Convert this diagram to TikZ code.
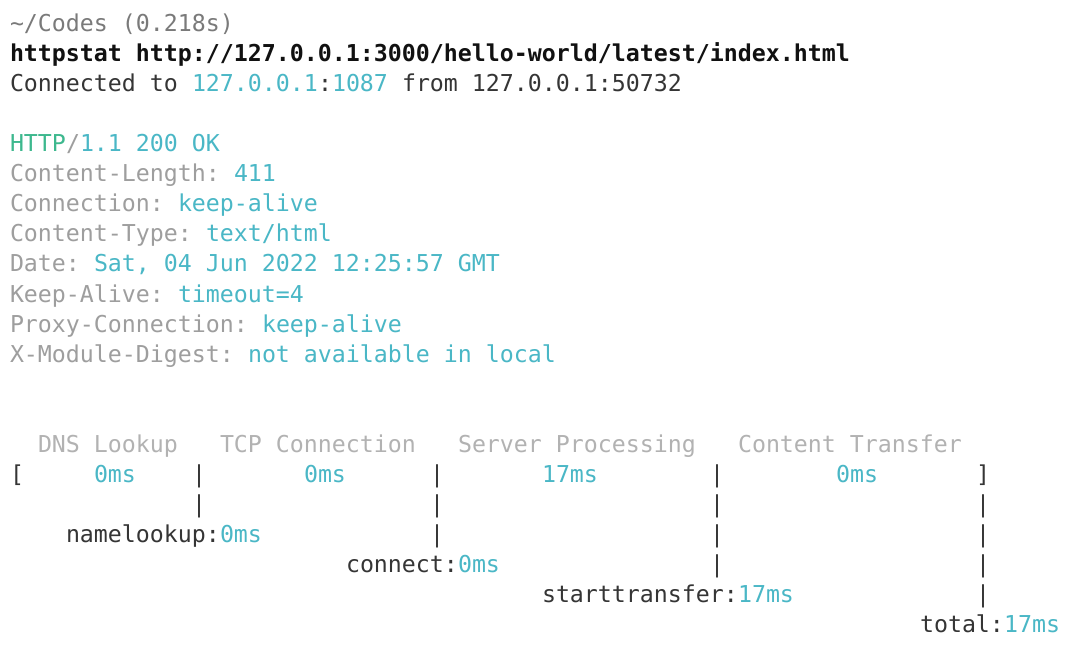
\documentclass[tikz,border=0pt]{standalone}
\usepackage{fontspec}
\newfontfamily\monofnt{DejaVu Sans Mono}
\definecolor{teal}{HTML}{4AB7C6}
\definecolor{httpgreen}{HTML}{3DB88E}
\definecolor{hdrgrey}{HTML}{9E9E9E}
\definecolor{tmgrey}{HTML}{B2B2B2}
\definecolor{promptgrey}{HTML}{7A7A7A}
\definecolor{darktext}{HTML}{353535}
\definecolor{boldtext}{HTML}{111111}
\tikzset{
  txt/.style={anchor=base west, inner sep=0pt, outer sep=0pt,
    font={\monofnt\fontsize{23.25}{28}\selectfont\frenchspacing}},
  val/.style={txt, text=teal},
  dk/.style={txt, text=darktext},
  hd/.style={txt, text=hdrgrey},
  tm/.style={txt, text=tmgrey},
}
\newcommand\seg[5]{\node[#4] (#1) at ({10pt+14pt*#2},{-32pt-30pt*#3}) {#5};}
\begin{document}
\begin{tikzpicture}
\fill[white] (0,0) rectangle (1076pt,-668pt);
\useasboundingbox (0,0) rectangle (1076pt,-668pt);
% prompt
\seg{p0}{0}{0}{txt,text=promptgrey}{\textasciitilde/Codes (0.218s)}
\seg{p1}{0}{1}{txt,text=boldtext,font={\monofnt\bfseries\fontsize{23.25}{28}\selectfont}}{httpstat http://127.0.0.1:3000/hello-world/latest/index.html}
\seg{c1}{0}{2}{dk}{Connected to}
\seg{c2}{13}{2}{val}{127.0.0.1}
\seg{c3}{22}{2}{dk}{:}
\seg{c4}{23}{2}{val}{1087}
\seg{c5}{28}{2}{dk}{from 127.0.0.1:50732}
% response headers
\seg{h0a}{0}{4}{txt,text=httpgreen}{HTTP}
\seg{h0b}{4}{4}{hd}{/}
\seg{h0c}{5}{4}{val}{1.1 200 OK}
\seg{h1a}{0}{5}{hd}{Content-Length:}
\seg{h1b}{16}{5}{val}{411}
\seg{h2a}{0}{6}{hd}{Connection:}
\seg{h2b}{12}{6}{val}{keep-alive}
\seg{h3a}{0}{7}{hd}{Content-Type:}
\seg{h3b}{14}{7}{val}{text/html}
\seg{h4a}{0}{8}{hd}{Date:}
\seg{h4b}{6}{8}{val}{Sat, 04 Jun 2022 12:25:57 GMT}
\seg{h5a}{0}{9}{hd}{Keep-Alive:}
\seg{h5b}{12}{9}{val}{timeout=4}
\seg{h6a}{0}{10}{hd}{Proxy-Connection:}
\seg{h6b}{18}{10}{val}{keep-alive}
\seg{h7a}{0}{11}{hd}{X-Module-Digest:}
\seg{h7b}{17}{11}{val}{not available in local}
% timing headers
\seg{t1}{2}{14}{tm}{DNS Lookup}
\seg{t2}{15}{14}{tm}{TCP Connection}
\seg{t3}{32}{14}{tm}{Server Processing}
\seg{t4}{52}{14}{tm}{Content Transfer}
% timing bar
\seg{b0}{0}{15}{dk}{[}
\seg{v1}{6}{15}{val}{0ms}
\seg{b1}{13}{15}{dk}{|}
\seg{v2}{21}{15}{val}{0ms}
\seg{b2}{30}{15}{dk}{|}
\seg{v3}{38}{15}{val}{17ms}
\seg{b3}{50}{15}{dk}{|}
\seg{v4}{59}{15}{val}{0ms}
\seg{b4}{69}{15}{dk}{]}
% row 16
\seg{r16a}{13}{16}{dk}{|}
\seg{r16b}{30}{16}{dk}{|}
\seg{r16c}{50}{16}{dk}{|}
\seg{r16d}{69}{16}{dk}{|}
% row 17
\seg{n1}{4}{17}{dk}{namelookup:}
\seg{n1v}{15}{17}{val}{0ms}
\seg{r17b}{30}{17}{dk}{|}
\seg{r17c}{50}{17}{dk}{|}
\seg{r17d}{69}{17}{dk}{|}
% row 18
\seg{n2}{24}{18}{dk}{connect:}
\seg{n2v}{32}{18}{val}{0ms}
\seg{r18c}{50}{18}{dk}{|}
\seg{r18d}{69}{18}{dk}{|}
% row 19
\seg{n3}{38}{19}{dk}{starttransfer:}
\seg{n3v}{52}{19}{val}{17ms}
\seg{r19d}{69}{19}{dk}{|}
% row 20
\seg{n4}{65}{20}{dk}{total:}
\seg{n4v}{71}{20}{val}{17ms}
\end{tikzpicture}
\end{document}
